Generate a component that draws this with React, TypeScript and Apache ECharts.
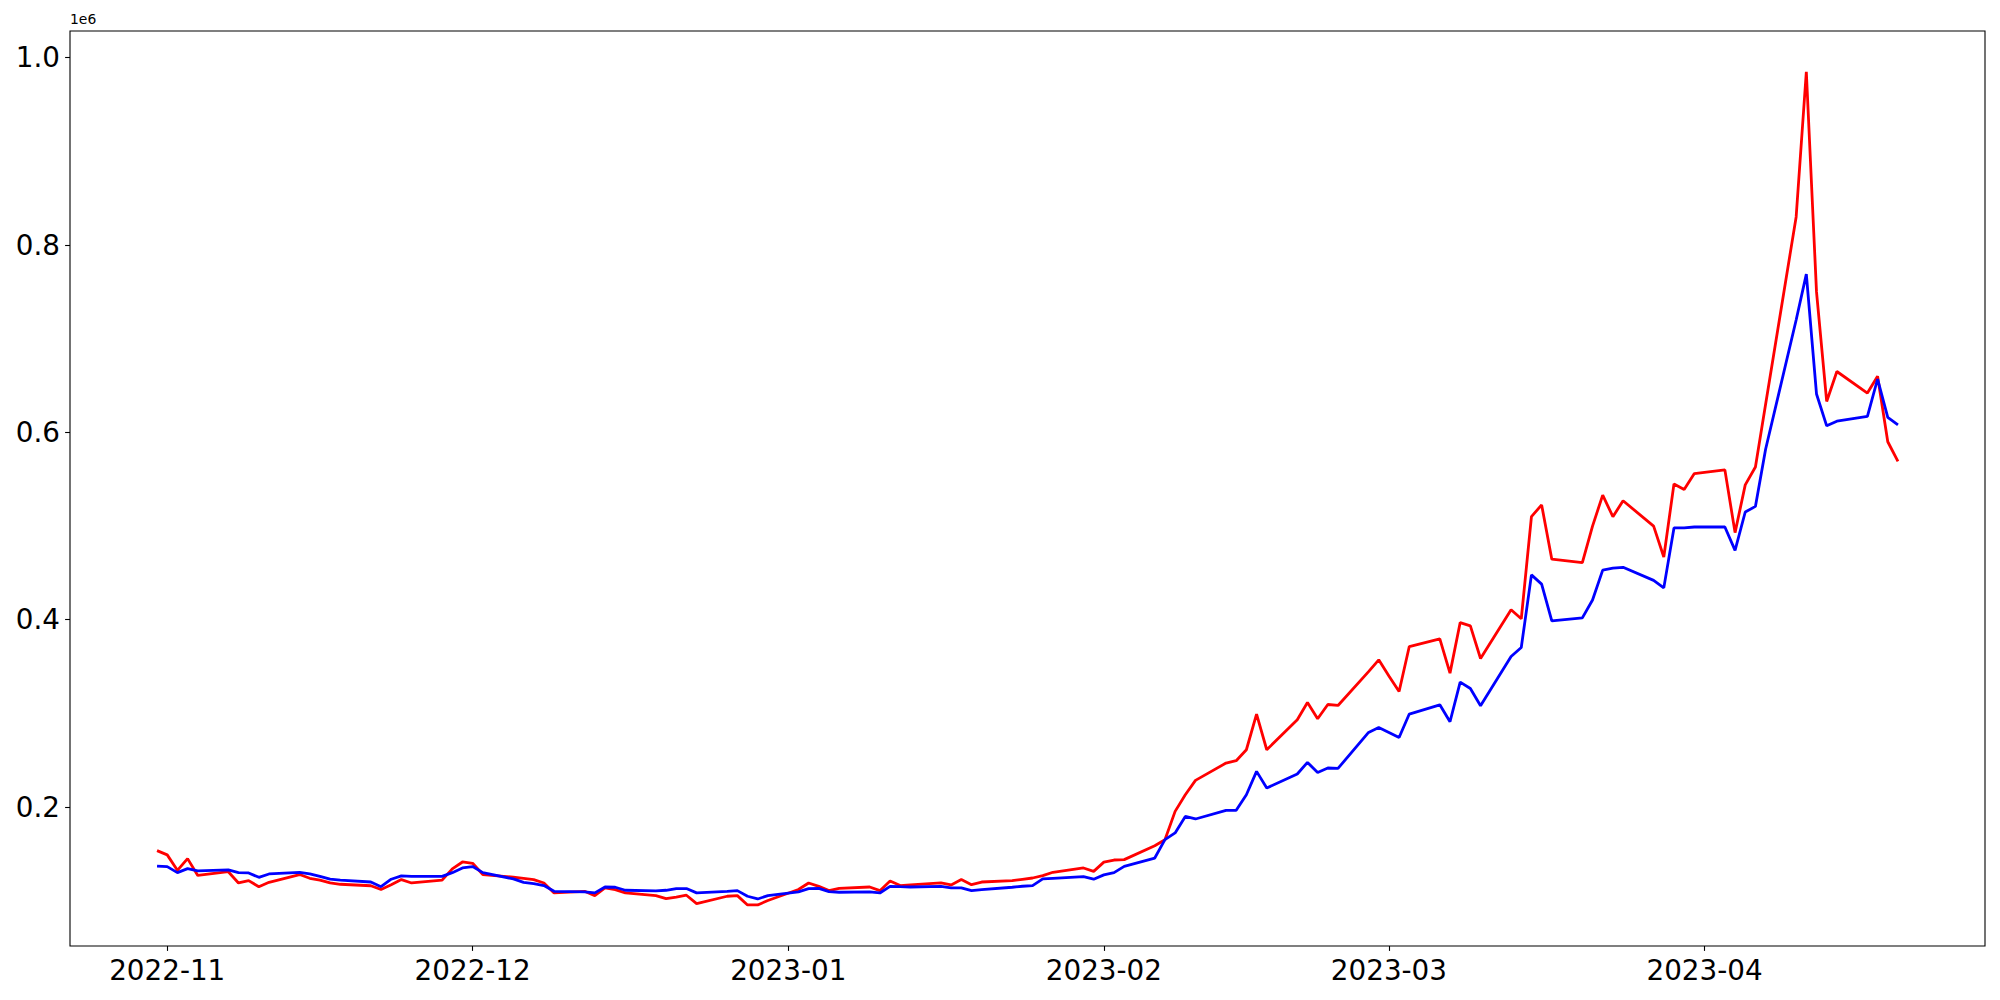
import React, { useEffect, useRef } from "react";
import * as echarts from "echarts";

const dates = [
  "2022-10-31",
  "2022-11-01", "2022-11-02", "2022-11-03", "2022-11-04",
  "2022-11-07", "2022-11-08", "2022-11-09", "2022-11-10", "2022-11-11",
  "2022-11-14", "2022-11-15", "2022-11-16", "2022-11-17", "2022-11-18",
  "2022-11-21", "2022-11-22", "2022-11-23", "2022-11-24", "2022-11-25",
  "2022-11-28", "2022-11-29", "2022-11-30", "2022-12-01", "2022-12-02",
  "2022-12-05", "2022-12-06", "2022-12-07", "2022-12-08", "2022-12-09",
  "2022-12-12", "2022-12-13", "2022-12-14", "2022-12-15", "2022-12-16",
  "2022-12-19", "2022-12-20", "2022-12-21", "2022-12-22", "2022-12-23",
  "2022-12-26", "2022-12-27", "2022-12-28", "2022-12-29", "2022-12-30",
  "2023-01-02", "2023-01-03", "2023-01-04", "2023-01-05", "2023-01-06",
  "2023-01-09", "2023-01-10", "2023-01-11", "2023-01-12", "2023-01-13",
  "2023-01-16", "2023-01-17", "2023-01-18", "2023-01-19", "2023-01-20",
  "2023-01-23", "2023-01-24", "2023-01-25", "2023-01-26", "2023-01-27",
  "2023-01-30", "2023-01-31", "2023-02-01", "2023-02-02", "2023-02-03",
  "2023-02-06", "2023-02-07", "2023-02-08", "2023-02-09", "2023-02-10",
  "2023-02-13", "2023-02-14", "2023-02-15", "2023-02-16", "2023-02-17",
  "2023-02-20", "2023-02-21", "2023-02-22", "2023-02-23", "2023-02-24",
  "2023-02-27", "2023-02-28", "2023-03-01", "2023-03-02", "2023-03-03",
  "2023-03-06", "2023-03-07", "2023-03-08", "2023-03-09", "2023-03-10",
  "2023-03-13", "2023-03-14", "2023-03-15", "2023-03-16", "2023-03-17",
  "2023-03-20", "2023-03-21", "2023-03-22", "2023-03-23", "2023-03-24",
  "2023-03-27", "2023-03-28", "2023-03-29", "2023-03-30", "2023-03-31",
  "2023-04-03", "2023-04-04", "2023-04-05", "2023-04-06", "2023-04-07",
  "2023-04-10", "2023-04-11", "2023-04-12", "2023-04-13", "2023-04-14",
  "2023-04-17", "2023-04-18", "2023-04-19", "2023-04-20",
];

const redValues = [
  153500,
  149000, 132500, 145000, 127000,
  131000, 119000, 121500, 115000, 119700,
  128000, 124000, 122000, 119000, 117600,
  116000, 112000, 117000, 122600, 119000,
  122000, 134000, 141400, 140000, 128000,
  125100, 124000, 122600, 119000, 108400,
  110100, 105500, 113700, 111900, 108400,
  105500, 102300, 104000, 105900, 97000,
  104800, 105500, 95500, 95500, 100300,
  112000, 119000, 115400, 110800, 113300,
  114700, 110800, 121200, 116200, 117000,
  119000, 116900, 122600, 117200, 120000,
  121500, 122900, 124300, 126800, 130400,
  135000, 131400, 141200, 143500, 143900,
  158800, 165200, 195400, 213200, 228500,
  247000, 249500, 261200, 299300, 261200,
  293200, 311700, 294300, 309500, 308500,
  344600, 357200, 340000, 323400, 371400,
  379600, 343000, 397000, 393500, 358600,
  410600, 401000, 510100, 522600, 464600,
  461000, 500000, 533000, 510000, 527000,
  500000, 467000, 545000, 539000, 556000,
  560000, 493000, 544000, 563000, 630000,
  830000, 985000, 750000, 633000, 665000,
  642000, 660000, 590000, 569000,
];

const blueValues = [
  137000,
  136400, 130000, 134300, 132000,
  133000, 130000, 129700, 125000, 128600,
  130400, 128600, 126000, 123000, 122000,
  120000, 115000, 123000, 126500, 126000,
  126000, 130000, 135000, 136500, 130000,
  123300, 119700, 118300, 116200, 110100,
  109400, 108400, 114700, 114400, 111200,
  110500, 111200, 113000, 113000, 108400,
  110100, 110800, 104800, 101900, 105500,
  109400, 112900, 113300, 109800, 109100,
  109400, 108300, 115400, 115000, 114700,
  115400, 113700, 113700, 110800, 111900,
  114400, 115500, 116200, 123300, 124000,
  125800, 123000, 127600, 130000, 136700,
  145600, 165200, 172400, 190000, 187300,
  196500, 196500, 213200, 238100, 220300,
  235300, 247700, 237000, 241700, 241300,
  279700, 285000, 279700, 274300, 299300,
  309200, 291100, 333400, 326600, 308200,
  360700, 370300, 447900, 438000, 398800,
  402000, 421000, 453000, 455000, 456000,
  442000, 434000, 498000, 498000, 499000,
  499000, 474000, 515000, 521000, 582000,
  720000, 769000, 641000, 607000, 612000,
  617000, 657000, 616000, 608000,
];

const monthTicks = ["2022-11-01", "2022-12-01", "2023-01-01", "2023-02-01", "2023-03-01", "2023-04-01"];
const yTicks = [200000, 400000, 600000, 800000, 1000000];

const ts = (d: string) => {
  const [y, m, dd] = d.split("-").map(Number);
  return Date.UTC(y, m - 1, dd);
};

export default function App() {
  const ref = useRef<HTMLDivElement>(null);

  useEffect(() => {
    document.body.style.margin = "0";
    if (!ref.current) return;
    const chart = echarts.init(ref.current, undefined, { renderer: "svg" });

    const xs = dates.map(ts);
    const x0 = xs[0];
    const x1 = xs[xs.length - 1];
    const pad = (x1 - x0) * 0.05;

    const font = "DejaVu Sans";
    const tickStyle = { color: "#000", width: 1.1 };

    chart.setOption({
      animation: false,
      backgroundColor: "#fff",
      grid: {
        left: 70,
        right: 15,
        top: 31,
        bottom: 54,
        show: true,
        borderColor: "#000",
        borderWidth: 1.1,
        backgroundColor: "transparent",
      },
      xAxis: {
        type: "value",
        min: x0 - pad,
        max: x1 + pad,
        axisLine: { show: false },
        splitLine: { show: false },
        axisTick: {
          show: true,
          length: 4.9,
          lineStyle: tickStyle,
          customValues: monthTicks.map(ts),
        },
        axisLabel: {
          show: true,
          fontSize: 27.8,
          color: "#000",
          fontFamily: font,
          margin: 10,
          customValues: monthTicks.map(ts),
          formatter: (v: number) => {
            const d = new Date(v);
            const m = d.getUTCMonth() + 1;
            return `${d.getUTCFullYear()}-${m < 10 ? "0" + m : m}`;
          },
        },
      },
      yAxis: {
        type: "value",
        min: 51700,
        max: 1028500,
        axisLine: { show: false },
        splitLine: { show: false },
        axisTick: {
          show: true,
          length: 4.9,
          lineStyle: tickStyle,
          customValues: yTicks,
        },
        axisLabel: {
          show: true,
          fontSize: 27.8,
          color: "#000",
          fontFamily: font,
          margin: 10,
          customValues: yTicks,
          formatter: (v: number) => (v / 1e6).toFixed(1),
        },
      },
      graphic: [
        {
          type: "text",
          left: 70,
          top: 12,
          style: { text: "1e6", fontSize: 13.9, fontFamily: font, fill: "#000" },
        },
      ],
      series: [
        {
          type: "line",
          data: xs.map((x, i) => [x, redValues[i]]),
          showSymbol: false,
          lineStyle: { color: "#ff0000", width: 2.8 },
          itemStyle: { color: "#ff0000" },
        },
        {
          type: "line",
          data: xs.map((x, i) => [x, blueValues[i]]),
          showSymbol: false,
          lineStyle: { color: "#0000ff", width: 2.8 },
          itemStyle: { color: "#0000ff" },
        },
      ],
    });

    return () => chart.dispose();
  }, []);

  return <div ref={ref} style={{ width: 2000, height: 1000 }} />;
}
